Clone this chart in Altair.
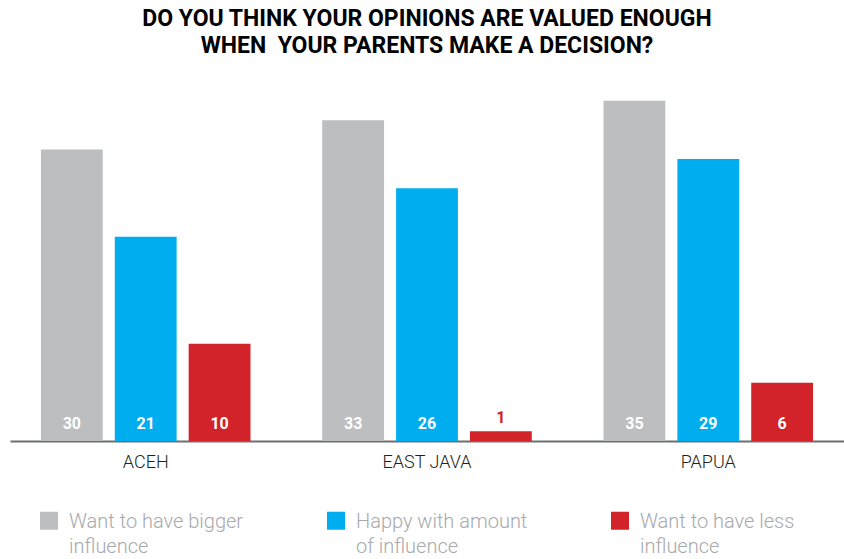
import altair as alt
import pandas as pd

regions = ["ACEH", "EAST JAVA", "PAPUA"]
series = ["Want to have bigger|influence", "Happy with amount|of influence", "Want to have less|influence"]
bigger = [30, 33, 35]
happy = [21, 26, 29]
less = [10, 1, 6]
colors = ["#bcbec0", "#00aeef", "#d2232a"]
title_lines = ["DO YOU THINK YOUR OPINIONS ARE VALUED ENOUGH", "WHEN\u00a0 YOUR PARENTS MAKE A DECISION?"]

rows = []
for s, vals in zip(series, [bigger, happy, less]):
    for r, v in zip(regions, vals):
        rows.append({"region": r, "series": s, "value": v})
df = pd.DataFrame(rows)

base = alt.Chart(df).encode(
    x=alt.X("region:N", sort=regions,
            scale=alt.Scale(paddingInner=0.255, paddingOuter=0.11),
            axis=alt.Axis(title=None, labelAngle=0, ticks=False, domainColor="#6d6e71", domainWidth=2,
                          labelFont="Roboto", labelFontWeight=300, labelFontSize=18, labelColor="#231f20",
                          labelPadding=12)),
    xOffset=alt.XOffset("series:N", sort=series, scale=alt.Scale(paddingInner=0.163, paddingOuter=0)),
)

bars = base.mark_bar().encode(
    y=alt.Y("value:Q", scale=alt.Scale(domain=[0, 35.8], nice=False, zero=True), axis=None),
    color=alt.Color("series:N", sort=series, scale=alt.Scale(domain=series, range=colors),
                    legend=alt.Legend(orient="none", legendX=29, legendY=409, direction="horizontal",
                                      columns=3, title=None,
                                      symbolType="M-1,-0.03L1,-0.03L1,1.97L-1,1.97Z", symbolSize=324,
                                      symbolStrokeWidth=0, symbolOpacity=1,
                                      labelExpr="split(datum.label, '|')", labelBaseline="top",
                                      labelFont="Roboto", labelFontSize=20, labelFontWeight=300,
                                      labelColor="#a7a9ac", labelLimit=0, labelOffset=10,
                                      columnPadding=82, padding=0)),
)

inside = base.mark_text(color="white", font="Roboto", fontWeight="bold", fontSize=16,
                        baseline="middle", dy=-17).encode(
    y=alt.datum(0), text="value:Q"
).transform_filter("datum.value >= 3")

outside = base.mark_text(color="#d2232a", font="Roboto", fontWeight="bold", fontSize=16,
                         baseline="middle", dy=-13).encode(
    y="value:Q", text="value:Q"
).transform_filter("datum.value < 3")

chart = alt.layer(bars, inside, outside).properties(
    width=834, height=348,
    title=alt.TitleParams(title_lines, font="Roboto", fontSize=23, fontWeight="bold",
                          color="#000000", anchor="middle", lineHeight=27, offset=35),
    autosize=alt.AutoSizeParams(type="none"),
    padding={"left": 10, "top": 93, "right": 0, "bottom": 118},
).configure(background="white", view={"stroke": None},
            style={"guide-label": {"lineHeight": 25}})

chart.save("out.html", embed_options={"renderer": "svg", "actions": False})
